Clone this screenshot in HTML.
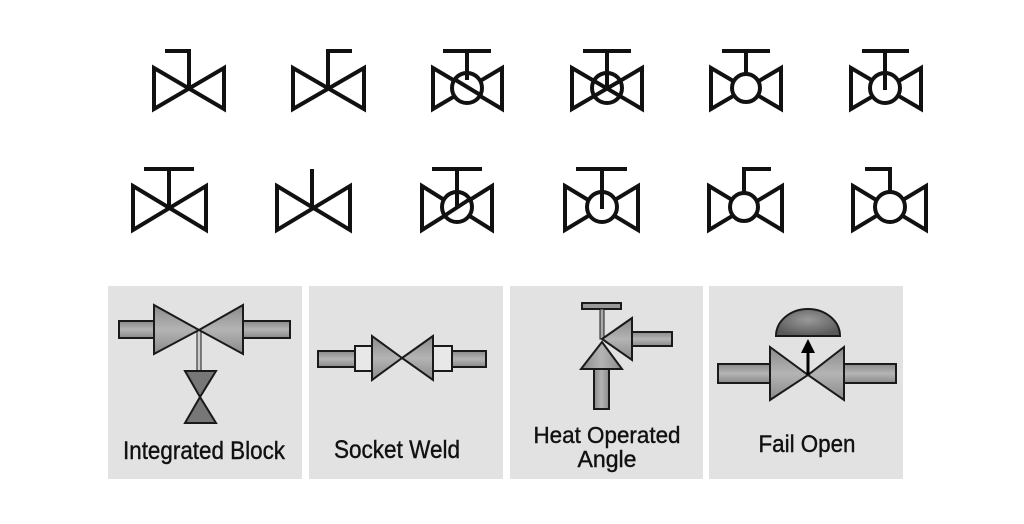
<!DOCTYPE html>
<html><head><meta charset="utf-8"><style>
html,body{margin:0;padding:0;background:#fff;width:1024px;height:524px;overflow:hidden}
svg{display:block}
text{font-family:"Liberation Sans",sans-serif;fill:#111;stroke:#111;stroke-width:0.4}
</style></head><body>
<svg width="1024" height="524" viewBox="0 0 1024 524" xmlns="http://www.w3.org/2000/svg">
<defs>
<linearGradient id="g" x1="0" y1="0" x2="0" y2="1"><stop offset="0" stop-color="#8a8a8a"/><stop offset="0.5" stop-color="#b4b4b4"/><stop offset="1" stop-color="#8a8a8a"/></linearGradient>
<linearGradient id="gh" x1="0" y1="0" x2="1" y2="0"><stop offset="0" stop-color="#8a8a8a"/><stop offset="0.5" stop-color="#b4b4b4"/><stop offset="1" stop-color="#8a8a8a"/></linearGradient>
<radialGradient id="gd" cx="0.5" cy="0.4" r="0.6"><stop offset="0" stop-color="#9a9a9a"/><stop offset="1" stop-color="#5a5a5a"/></radialGradient>
</defs>
<g fill="none" stroke="#111" stroke-width="4" stroke-linejoin="miter">
<!-- Row 1 -->
<path d="M154,68 L224,109 L224,68 L154,109 Z"/><path d="M165,51 H189 V88"/>
<path d="M293,68 L364,109 L364,68 L293,109 Z"/><path d="M352,51 H328 V88"/>
<path d="M433,68 L502,109 L502,68 L433,109 Z"/><circle cx="467" cy="88" r="15" fill="#fff"/><path d="M443,51 H491 M467,51 V80"/><path d="M454,79 L482,96"/>
<path d="M572,68 L642,109 L642,68 L572,109 Z"/><circle cx="607" cy="88" r="15"/><path d="M583,51 H631 M607,51 V88"/>
<path d="M711,68 L781,109 L781,68 L711,109 Z"/><circle cx="746" cy="88" r="14" fill="#fff"/><path d="M722,51 H770 M746,51 V74"/>
<path d="M851,68 L921,109 L921,68 L851,109 Z"/><circle cx="885" cy="88" r="15" fill="#fff"/><path d="M862,51 H909 M885,51 V90"/>
<!-- Row 2 -->
<path d="M133,186 L206,230 L206,186 L133,230 Z"/><path d="M144,169 H194 M169,169 V207"/>
<path d="M277,186 L350,230 L350,186 L277,230 Z"/><path d="M312,169 V207"/>
<path d="M422,186 L492,230 L492,186 L422,230 Z"/><circle cx="457" cy="207" r="15" fill="#fff"/><path d="M432,169 H482 M457,169 V207"/><path d="M444,216 L470,199"/>
<path d="M565,186 L638,230 L638,186 L565,230 Z"/><circle cx="602" cy="207" r="15" fill="#fff"/><path d="M576,169 H627 M602,169 V209"/>
<path d="M709,186 L782,230 L782,186 L709,230 Z"/><circle cx="744" cy="207" r="14" fill="#fff"/><path d="M771,169 H744 V193"/>
<path d="M853,186 L926,230 L926,186 L853,230 Z"/><circle cx="890" cy="207" r="15" fill="#fff"/><path d="M865,169 H890 V192"/>
</g>
<!-- Panels -->
<rect x="108" y="286" width="194" height="193" fill="#e2e2e2"/>
<rect x="309" y="286" width="194" height="193" fill="#e2e2e2"/>
<rect x="510" y="286" width="193" height="193" fill="#e2e2e2"/>
<rect x="709" y="286" width="194" height="193" fill="#e2e2e2"/>
<g stroke="#1a1a1a" stroke-width="2" stroke-linejoin="miter">
<rect x="119" y="321" width="35" height="17" fill="url(#g)"/>
<rect x="243" y="321" width="47" height="17" fill="url(#g)"/>
<rect x="197" y="330" width="4" height="41" fill="#ccc" stroke-width="1"/>
<path d="M154,305 L199,330 L154,354 Z" fill="url(#g)"/>
<path d="M243,305 L199,330 L243,354 Z" fill="url(#g)"/>
<path d="M185,371 L216,371 L200,397 Z M185,423 L216,423 L200,397 Z" fill="#777"/>
<rect x="318" y="351" width="37" height="16" fill="url(#g)"/>
<rect x="452" y="351" width="34" height="16" fill="url(#g)"/>
<rect x="355" y="346" width="17" height="25" fill="#e8e8e8"/>
<rect x="433" y="346" width="19" height="25" fill="#e8e8e8"/>
<path d="M372,336 L402,358 L372,380 Z" fill="url(#g)"/>
<path d="M433,336 L402,358 L433,380 Z" fill="url(#g)"/>
<rect x="582" y="303" width="39" height="6" fill="#999"/>
<rect x="600" y="309" width="4" height="30" fill="#aaa" stroke-width="1"/>
<rect x="632" y="332" width="40" height="14" fill="url(#g)"/>
<rect x="594" y="369" width="15" height="40" fill="url(#gh)"/>
<path d="M632,318 L602,339 L632,360 Z" fill="url(#g)"/>
<path d="M602,342 L581,369 L622,369 Z" fill="url(#gh)"/>
<rect x="718" y="364" width="52" height="19" fill="url(#g)"/>
<rect x="844" y="364" width="52" height="19" fill="url(#g)"/>
<path d="M770,347 L808,375 L770,400 Z" fill="url(#g)"/>
<path d="M844,347 L808,375 L844,400 Z" fill="url(#g)"/>
<path d="M776,336 A32,27 0 0 1 840,336 Z" fill="url(#gd)"/>
</g>
<path d="M808,375 V352" stroke="#000" stroke-width="3"/>
<path d="M801,353 L808,339 L815,353 Z" fill="#000"/>
<text x="204" y="459" font-size="25" text-anchor="middle" textLength="162" lengthAdjust="spacingAndGlyphs">Integrated Block</text>
<text x="397" y="458" font-size="25" text-anchor="middle" textLength="126" lengthAdjust="spacingAndGlyphs">Socket Weld</text>
<text x="607" y="443" font-size="23" text-anchor="middle" textLength="147" lengthAdjust="spacingAndGlyphs">Heat Operated</text>
<text x="607" y="467" font-size="23" text-anchor="middle" textLength="59" lengthAdjust="spacingAndGlyphs">Angle</text>
<text x="807" y="452" font-size="24" text-anchor="middle" textLength="97" lengthAdjust="spacingAndGlyphs">Fail Open</text>
</svg>
</body></html>
